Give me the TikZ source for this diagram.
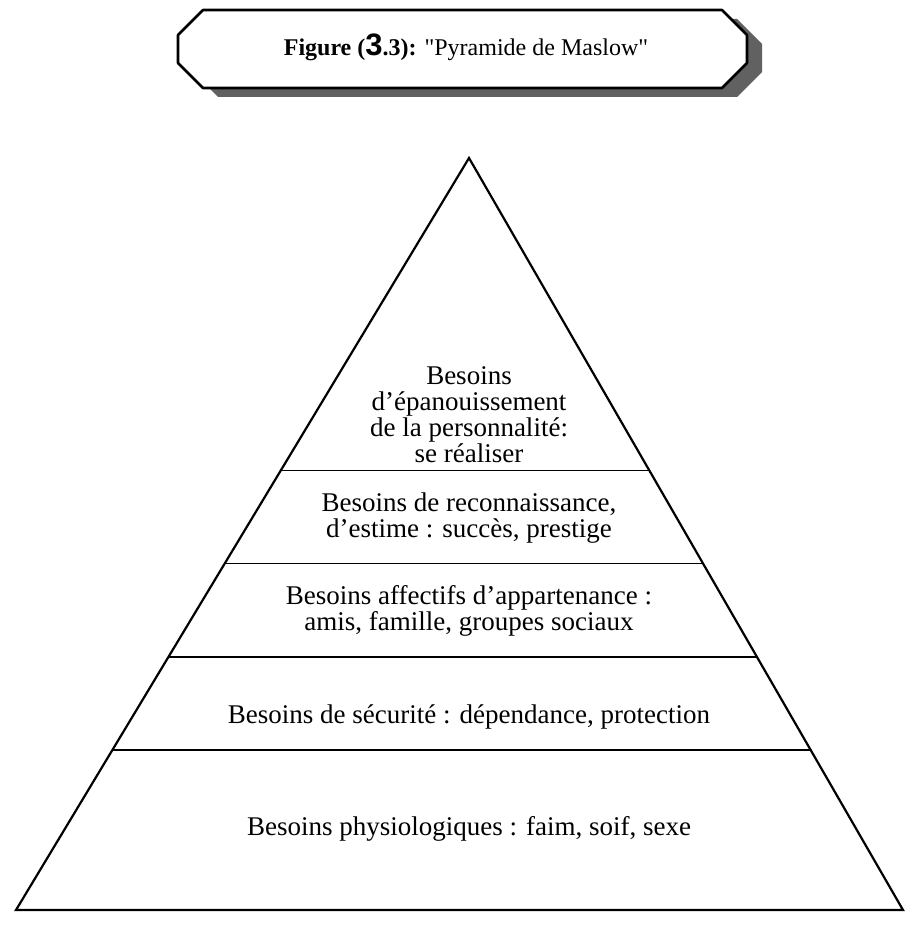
\documentclass[tikz,border=0pt]{standalone}
\usepackage{fontspec}
\setmainfont{Liberation Serif}
\setsansfont{Liberation Sans}
\newfontfamily\plainquote{Liberation Serif}
\usetikzlibrary{calc}
\begin{document}
\begin{tikzpicture}[x=1pt,y=-1pt,
  levelbox/.style={font=\fontsize{27}{26}\selectfont, align=center, inner sep=0pt},
  pyredge/.style={line width=2.2pt, line join=miter},
  separator/.style={line width=1.8pt},
  plaque/.style={line width=2.6pt, line join=round, fill=white},
  plaqueshadow/.style={fill=black!62}]
\useasboundingbox (0,0) rectangle (913,925);

% title plaque with its drop shadow
\fill[plaqueshadow] (218,19) -- (737,19) -- (762,44) -- (762,72) -- (737,97) -- (218,97) -- (193,72) -- (193,44) -- cycle;
\draw[plaque] (203,10) -- (722,10) -- (747,35) -- (747,63) -- (722,88) -- (203,88) -- (178,63) -- (178,35) -- cycle;
\node[font=\fontsize{24}{28}\selectfont, inner sep=0pt] (title) at (466,47)
  {\textbf{Figure (}{\sffamily\bfseries\fontsize{31}{31}\selectfont 3}\textbf{.3):} {\plainquote"}Pyramide de Maslow{\plainquote"}};

% pyramid outline
\coordinate (apex) at (469,158);
\coordinate (bl) at (16,910);
\coordinate (br) at (903,910);
\draw[pyredge] (bl) -- (apex) -- (br) -- cycle;

% level separators, placed by their fraction of the height
\foreach \t [count=\i] in {0.4156,0.5392,0.6640,0.7876}{
  \coordinate (l\i) at ($(apex)!\t!(bl)$);
  \coordinate (r\i) at ($(apex)!\t!(br)$);
  \draw[separator] (l\i) -- (r\i);
}

% level texts
\node[levelbox] (lv5) at (469,415) {Besoins\\d’épanouissement\\de la personnalité:\\se réaliser};
\node[levelbox] (lv4) at (469,518) {Besoins de reconnaissance,\\d’estime : succès, prestige};
\node[levelbox] (lv3) at (469,611) {Besoins affectifs d’appartenance :\\amis, famille, groupes sociaux};
\node[levelbox] (lv2) at (469,717) {Besoins de sécurité : dépendance, protection};
\node[levelbox] (lv1) at (469,829) {Besoins physiologiques : faim, soif, sexe};
\end{tikzpicture}
\end{document}
